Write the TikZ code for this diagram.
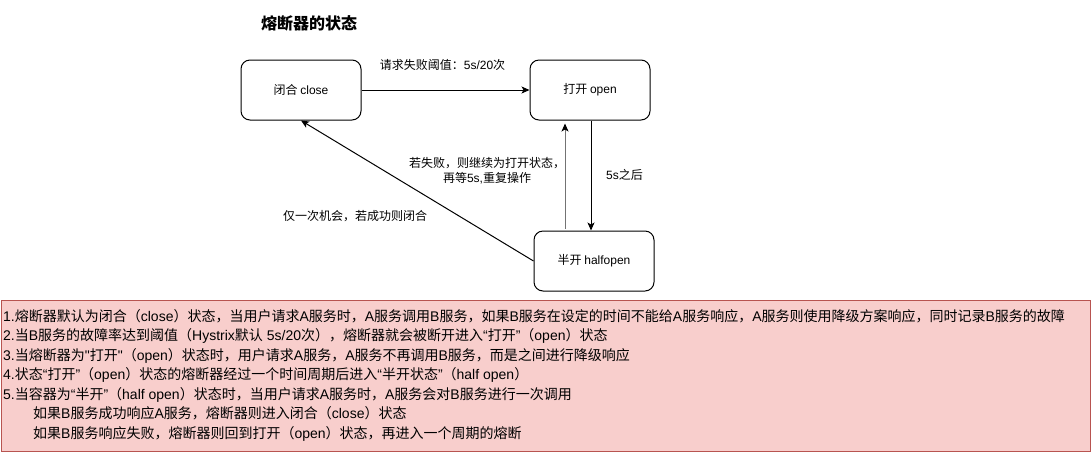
\documentclass[tikz,border=0pt]{standalone}
\usepackage{fontspec}
\setmainfont{Noto Sans CJK SC}
\newfontfamily\latf{Liberation Sans}
\newcommand\la[1]{{\latf #1}}
\usetikzlibrary{arrows.meta}
\definecolor{redfill}{HTML}{F8CECC}
\definecolor{redline}{HTML}{B85450}
\begin{document}
\begin{tikzpicture}[x=1pt,y=-1pt,
  state/.style={draw, line width=1pt, rounded corners=9pt, minimum width=120pt, minimum height=60pt, inner sep=0pt, font=\fontsize{12}{14}\selectfont},
  lbl/.style={font=\fontsize{12}{15}\selectfont, inner sep=0pt, align=center},
  note/.style={anchor=base west, inner sep=0pt, font=\fontsize{14}{16}\selectfont},
  arr/.style={line width=1pt, -{Stealth[length=8pt,width=7pt,inset=2pt]}},
  grayarr/.style={line width=1pt, draw=black!55, -{Stealth[length=8pt,width=7pt,inset=2pt,color=black]}}]
\useasboundingbox (0,0) rectangle (1091,451);
\node[lbl, font=\bfseries\fontsize{16}{18}\selectfont] (title) at (309,23) {熔断器的状态};
\node[state] (close) at (301,90) {闭合 \la{close}};
\node[state] (open) at (590,90) {打开 \la{open}};
\node[state] (half) at (594,261) {半开 \la{halfopen}};
\coordinate (hs) at ([xshift=-29pt,yshift=2pt]half.north);
\coordinate (oe) at ([xshift=-25pt,yshift=-3pt]open.south);
\draw[arr] (close.east) -- (open.west);
\draw[arr] ([xshift=1pt]open.south) -- ([xshift=-3pt]half.north);
\draw[grayarr] (hs) -- (oe);
\draw[arr] (half.west) -- (close.south);
\node[lbl] (t1) at (442.5,65) {请求失败阈值：\la{5s/20}次};
\node[lbl] (t2) at (487,170.5) {若失败，则继续为打开状态，\\再等\la{5s,}重复操作};
\node[lbl] (t3) at (624.5,175) {\la{5s}之后};
\node[lbl] (t4) at (355,216) {仅一次机会，若成功则闭合};
\node[draw=redline, fill=redfill, line width=1pt, minimum width=1089pt, minimum height=151pt, inner sep=0pt, anchor=north west] (notes) at (0.5,299.5) {};
\node[note] (n1) at (3,321) {\la{1.}熔断器默认为闭合（\la{close}）状态，当用户请求\la{A}服务时，\la{A}服务调用\la{B}服务，如果\la{B}服务在设定的时间不能给\la{A}服务响应，\la{A}服务则使用降级方案响应，同时记录\la{B}服务的故障};
\node[note] (n2) at (3,340.5) {\la{2.}当\la{B}服务的故障率达到阈值（\la{Hystrix}默认\la{ 5s/20}次），熔断器就会被断开进入\la{“}打开\la{”}（\la{open}）状态};
\node[note] (n3) at (3,360) {\la{3.}当熔断器为\la{"}打开\la{"}（\la{open}）状态时，用户请求\la{A}服务，\la{A}服务不再调用\la{B}服务，而是之间进行降级响应};
\node[note] (n4) at (3,379.5) {\la{4.}状态\la{“}打开\la{”}（\la{open}）状态的熔断器经过一个时间周期后进入\la{“}半开状态\la{”}（\la{half open}）};
\node[note] (n5) at (3,399) {\la{5.}当容器为\la{“}半开\la{”}（\la{half open}）状态时，当用户请求\la{A}服务时，\la{A}服务会对\la{B}服务进行一次调用};
\node[note] (n6) at (33,418.5) {如果\la{B}服务成功响应\la{A}服务，熔断器则进入闭合（\la{close}）状态};
\node[note] (n7) at (33,438) {如果\la{B}服务响应失败，熔断器则回到打开（\la{open}）状态，再进入一个周期的熔断};
\end{tikzpicture}
\end{document}
